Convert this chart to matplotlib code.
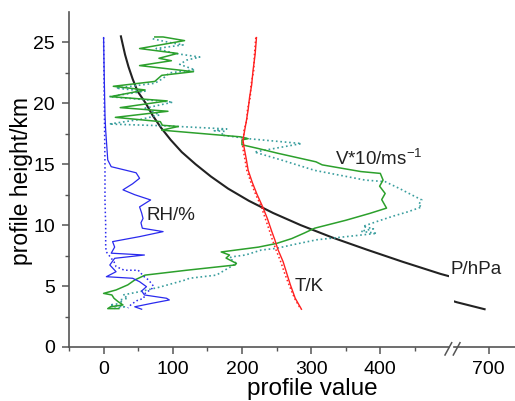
import numpy as np
import matplotlib
matplotlib.use('Agg')
import matplotlib.pyplot as plt
from matplotlib.lines import Line2D

plt.rcParams['font.family'] = ['Liberation Sans', 'DejaVu Sans']
plt.rcParams['mathtext.fontset'] = 'custom'
plt.rcParams['mathtext.rm'] = 'Liberation Sans'
plt.rcParams['mathtext.it'] = 'Liberation Sans:italic'

# pressure profile (hPa)
p_h = [25.5, 25, 24, 23, 22, 21, 20, 19, 18, 17, 16, 15, 14, 13, 12, 11, 10, 9, 8, 7, 6, 5.83, 5.0, 4.5, 4.0, 3.67, 3.1]
p_val = [25, 27, 31, 36, 42, 49, 61, 71, 83, 97, 113, 133, 155, 180, 210, 245, 285, 330, 380, 432, 487, 498, 560, 600, 635, 654, 694]

# temperature (K), two soundings
t_h = [25.4, 24, 22.7, 21.5, 20.5, 19.5, 18.6, 17.8, 17.0, 16.4, 15.5, 14.5, 13.5, 12.5, 11.5, 10.5, 9.5, 8.8, 8, 7, 6, 5.1, 4, 3.1]
t1 = [221, 219, 216, 214, 211, 209, 206.5, 204, 201.5, 203, 206, 209, 215, 222, 230, 237, 243, 247.5, 252, 259.5, 265, 270, 277, 286]
t2 = [220, 218, 217, 213, 212, 208, 207, 203, 202, 201, 204, 207, 213, 220, 228, 234, 240, 244, 249, 256, 262, 268, 276, 285]

# relative humidity (%)
rh1_h = [25.4, 22, 19, 17.8, 15.35, 14.8, 14.4, 14.3, 13.85, 13.4, 12.9, 12.5, 12.07, 11.5, 11.0, 10.55, 10.2, 9.75, 9.47, 9.06, 8.65,
         8.2, 7.7, 7.55, 7.28, 6.73, 6.18, 5.77, 5.64, 5.36, 4.95, 4.6, 4.27, 4.0, 3.86, 3.6, 3.3, 3.1]
rh1 = [0, 1, 2, 3, 6, 11, 40, 47, 52, 42, 28, 45, 68, 52, 55, 57, 54, 56, 86, 52, 13,
       16, 11, 59, 16, 9, 18, 4, 42, 52, 62, 55, 59, 91, 95, 71, 45, 55]
rh2_h = [25.4, 20, 15, 12, 10, 8.2, 7.8, 7.0, 6.6, 6.3, 6.3, 5.8, 5.5, 5.0, 4.8, 4.4, 4.0, 3.8, 3.5, 3.2]
rh2 = [0, 1, 2, 2, 3, 3, 4, 15, 18, 30, 50, 58, 65, 72, 70, 60, 58, 48, 40, 35]

# wind speed *10 (m/s), two soundings
v1_h = [25.45, 25.45, 25.15, 24.5, 24.1, 23.7, 23.5, 23.1, 22.6, 22.3, 21.8, 21.4, 21.1, 20.55, 20.2, 19.65, 19.35, 18.85, 18.5, 18.2,
        18.1, 17.8, 17.25, 17.1, 17.0, 16.6, 16.3, 15.9, 15.2, 14.95, 14.4, 14.25, 13.7, 13.2, 12.6, 12.1, 11.4, 10.97, 10.4, 9.75,
        9.35, 9.2, 8.9, 8.5, 8.2, 7.8, 7.55, 7.3, 6.86, 6.73, 6.3, 5.9, 5.5, 5.1, 4.68, 4.4, 4.27, 4.0, 3.72, 3.45, 3.3, 3.15, 3.15]
v1 = [74, 86, 117, 52, 107, 80, 98, 52, 130, 84, 74, 14, 60, 10, 92, 24, 93, 17, 82, 85,
      108, 84, 198, 209, 200, 200, 223, 252, 307, 316, 372, 400, 404, 399, 407, 402, 409, 385, 350, 305,
      290, 284, 272, 250, 224, 170, 182, 177, 192, 190, 120, 60, 45, 35, 18, 0, 12, 15, 21, 28, 10, 6, 22]
v2_h = [25.3, 25.0, 24.8, 24.5, 24.1, 23.8, 23.55, 23.2, 22.75, 22.5, 22.05, 21.65, 21.25, 21.0, 20.55, 20.1, 19.6, 19.05, 18.7, 18.3,
        18.15, 17.9, 17.75, 17.7, 17.4, 17.1, 16.7, 16.0, 15.35, 14.5, 13.7, 13.57, 13.0, 12.5, 12.07, 11.66, 11.5, 11.1, 10.75, 10.3,
        9.9, 9.7, 9.5, 9.33, 9.06, 8.8, 8.4, 8.1, 7.96, 7.55, 7.4, 7.3, 6.86, 6.3, 5.9, 5.64, 5.5, 4.9, 4.54, 4.27, 4.0, 3.86, 3.6, 3.45,
        3.3, 3.17]
v2 = [71, 95, 115, 76, 103, 139, 120, 110, 132, 95, 86, 74, 18, 60, 8, 100, 60, 81, 55, 8,
      91, 178, 160, 175, 170, 209, 286, 218, 257, 305, 378, 407, 428, 445, 460, 455, 460, 440, 419, 395,
      375, 390, 372, 395, 351, 308, 274, 250, 228, 205, 185, 182, 192, 175, 163, 124, 118, 80, 52, 28, 35, 23, 28, 9,
      30, 15]

fig = plt.figure(figsize=(5.15, 4.01), dpi=100)
ax = fig.add_axes([0.1340, 0.1347, 0.7388, 0.8354])
ax2 = fig.add_axes([0.8819, 0.1347, 0.1181, 0.8354], sharey=ax)
ax.patch.set_alpha(0)
ax2.patch.set_alpha(0)

for a in (ax, ax2):
    a.plot(p_val, p_h, color='#222222', lw=1.5)
    a.plot(v2, v2_h, color='#3a9e9e', lw=1.2, ls=':')
    a.plot(v1, v1_h, color='#2ca02c', lw=1.1)
    a.plot(rh2, rh2_h, color='#2a2aee', lw=1.1, ls=':')
    a.plot(rh1, rh1_h, color='#2a2aee', lw=0.9)
    a.plot(t2, t_h, color='#ff2020', lw=1.1, ls=':')
    a.plot(t1, t_h, color='#ff2020', lw=1.0)

ax.set_xlim(-50, 500)
ax2.set_xlim(650, 738)
ax.set_ylim(0, 27.5)

ax.set_xticks([0, 100, 200, 300, 400])
ax.set_xticks([-50, 50, 150, 250, 350, 450], minor=True)
ax.set_yticks([0, 5, 10, 15, 20, 25])
ax.set_yticks([2.5, 7.5, 12.5, 17.5, 22.5], minor=True)
ax2.set_xticks([700])

for a in (ax, ax2):
    for s in ['top', 'right']:
        a.spines[s].set_visible(False)
    a.spines['bottom'].set_color('#555555')
    a.spines['bottom'].set_linewidth(1.2)
    a.tick_params(which='major', direction='out', length=5, width=1.1, color='#555555', labelsize=14, pad=5)
    a.tick_params(which='minor', direction='out', length=3, width=1.0, color='#555555')
ax.spines['left'].set_color('#555555')
ax.spines['left'].set_linewidth(1.2)
ax2.spines['left'].set_visible(False)
ax2.tick_params(axis='y', which='both', left=False, labelleft=False)

# axis break marks
for bx in (445 / 515, 453.3 / 515):
    fig.add_artist(Line2D([bx, bx + 6.7 / 515], [46 / 401, 58.3 / 401], transform=fig.transFigure,
                          color='#555555', lw=1.1))

ax.text(62, 10.8, 'RH/%', fontsize=13.5, va='center', color='#222222')
ax.text(334, 15.4, 'V*10/ms$^{-1}$', fontsize=13.5, va='center', color='#222222')
ax.text(276, 4.95, 'T/K', fontsize=13.5, va='center', color='#222222')
ax.text(502, 6.4, 'P/hPa', fontsize=13.5, va='center', color='#222222', zorder=10)

fig.text(312 / 515, 1 - 388.5 / 401, 'profile value', fontsize=17.5, ha='center', va='center')
fig.text(22 / 515, 1 - 181 / 401, 'profile height/km', fontsize=16.5, rotation=90, ha='center', va='center')

plt.savefig('out.png', dpi=100)
